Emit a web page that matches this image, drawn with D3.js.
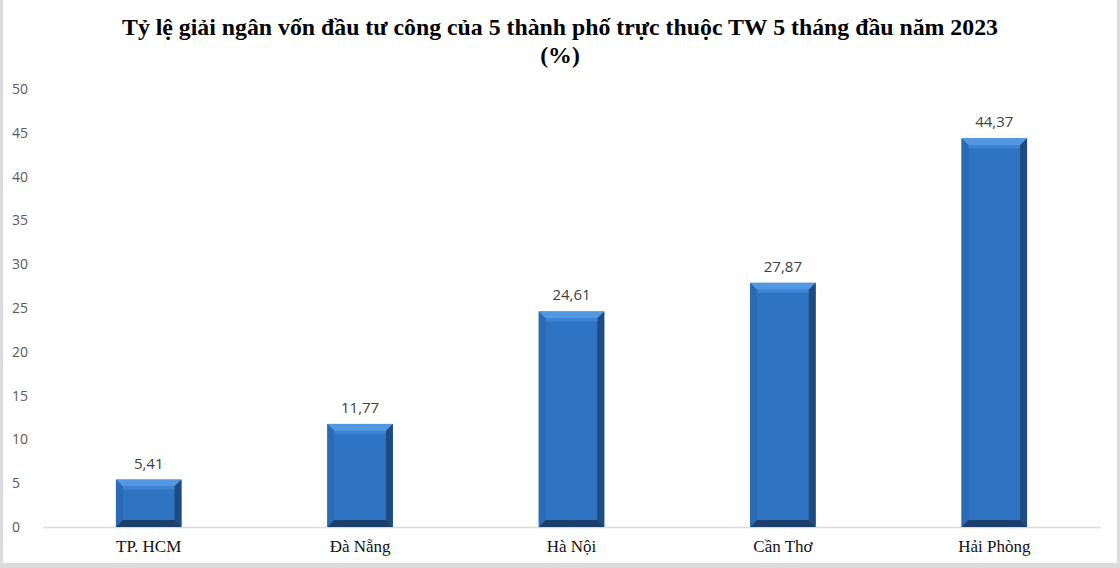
<!DOCTYPE html>
<html>
<head>
<meta charset="utf-8">
<script src="https://cdn.jsdelivr.net/npm/d3@7"></script>
<style>
  body { margin: 0; background: #fff; }
</style>
</head>
<body>
<div id="chart"></div>
<script>
const cities = ["TP. HCM", "Đà Nẵng", "Hà Nội", "Cần Thơ", "Hải Phòng"];
const rates = [5.41, 11.77, 24.61, 27.87, 44.37];
const yTicks = [0, 5, 10, 15, 20, 25, 30, 35, 40, 45, 50];
const titleLines = ["Tỷ lệ giải ngân vốn đầu tư công của 5 thành phố trực thuộc TW 5 tháng đầu năm 2023", "(%)"];

function drawBars() {
  const dimensions = {
    width: 1120,
    height: 568,
    margin: { top: 89, right: 20, bottom: 41, left: 43 }
  };
  dimensions.boundedWidth = dimensions.width - dimensions.margin.left - dimensions.margin.right;
  dimensions.boundedHeight = dimensions.height - dimensions.margin.top - dimensions.margin.bottom;

  const svg = d3.select("#chart").append("svg")
    .attr("width", dimensions.width)
    .attr("height", dimensions.height);

  // frame
  svg.append("rect").attr("x", 0).attr("y", 0).attr("width", 3).attr("height", 568).attr("fill", "#dcdce0");
  svg.append("rect").attr("x", 1117).attr("y", 0).attr("width", 3).attr("height", 568).attr("fill", "#dcdce0");
  svg.append("rect").attr("x", 0).attr("y", 563).attr("width", 1120).attr("height", 5).attr("fill", "#dcdce0");

  // title
  svg.selectAll(".title")
    .data(titleLines)
    .join("text")
    .attr("class", "title")
    .attr("x", 560)
    .attr("y", (d, i) => 35 + i * 28)
    .attr("text-anchor", "middle")
    .style("font-family", "'Liberation Serif', 'Times New Roman', serif")
    .style("font-weight", "bold")
    .style("font-size", "23.8px")
    .attr("fill", "#000")
    .text(d => d);

  const bounds = svg.append("g")
    .attr("transform", `translate(${dimensions.margin.left},${dimensions.margin.top})`);

  const xScale = d3.scaleBand()
    .domain(cities)
    .range([0, dimensions.boundedWidth])
    .paddingInner(0.69)
    .paddingOuter(0.345);

  const yScale = d3.scaleLinear()
    .domain([0, 50])
    .range([dimensions.boundedHeight, 0]);

  // y axis labels (no line)
  const yAxis = d3.axisLeft(yScale).tickValues(yTicks).tickSize(0).tickPadding(0);
  const yG = bounds.append("g").call(yAxis);
  yG.select(".domain").remove();
  yG.selectAll("text")
    .attr("x", 12 - dimensions.margin.left)
    .attr("text-anchor", "start")
    .style("font-family", "'Open Sans', 'Noto Sans', sans-serif")
    .style("font-size", "14px")
    .attr("fill", "#595959");

  // x axis
  const xAxis = d3.axisBottom(xScale).tickSize(0).tickPadding(13);
  const xG = bounds.append("g")
    .attr("transform", `translate(0,${dimensions.boundedHeight})`)
    .call(xAxis);
  xG.select(".domain").attr("stroke", "#d9d9d9").attr("stroke-width", 1.5);
  xG.selectAll("text")
    .style("font-family", "'Liberation Serif', 'Times New Roman', serif")
    .style("font-size", "17px")
    .attr("fill", "#111");

  // bars with bevel
  const bw = xScale.bandwidth();
  const bev = 7;
  const bar = bounds.selectAll(".bar")
    .data(rates)
    .join("g")
    .attr("class", "bar");

  const x0 = (d, i) => xScale(cities[i]);
  const x1 = (d, i) => xScale(cities[i]) + bw;
  const y0 = d => yScale(d);
  const y1 = () => yScale(0);

  // base
  bar.append("rect")
    .attr("x", x0)
    .attr("y", y0)
    .attr("width", bw)
    .attr("height", d => y1() - y0(d))
    .attr("fill", "#2f74c3");
  // top bevel
  bar.append("path")
    .attr("d", (d, i) => `M${x0(d, i)},${y0(d)}L${x1(d, i)},${y0(d)}L${x1(d, i) - bev},${y0(d) + bev}L${x0(d, i) + bev},${y0(d) + bev}Z`)
    .attr("fill", "#5297df");
  // left bevel
  bar.append("path")
    .attr("d", (d, i) => `M${x0(d, i)},${y0(d)}L${x0(d, i) + bev},${y0(d) + bev}L${x0(d, i) + bev},${y1() - bev}L${x0(d, i)},${y1()}Z`)
    .attr("fill", "#2b6ab5");
  // right bevel
  bar.append("path")
    .attr("d", (d, i) => `M${x1(d, i)},${y0(d)}L${x1(d, i) - bev},${y0(d) + bev}L${x1(d, i) - bev},${y1() - bev}L${x1(d, i)},${y1()}Z`)
    .attr("fill", "#1f4c80");
  // bottom bevel
  bar.append("path")
    .attr("d", (d, i) => `M${x0(d, i)},${y1()}L${x0(d, i) + bev},${y1() - bev}L${x1(d, i) - bev},${y1() - bev}L${x1(d, i)},${y1()}Z`)
    .attr("fill", "#1b3f6a");
  // highlight just below top bevel
  bar.append("rect")
    .attr("x", (d, i) => x0(d, i) + bev)
    .attr("y", d => y0(d) + bev)
    .attr("width", bw - 2 * bev)
    .attr("height", 3)
    .attr("fill", "#3c85d6");

  // data labels
  bar.append("text")
    .attr("x", (d, i) => x0(d, i) + bw / 2)
    .attr("y", d => y0(d) - 11)
    .attr("text-anchor", "middle")
    .style("font-family", "'Open Sans', 'Noto Sans', sans-serif")
    .style("font-size", "15px")
    .attr("fill", "#404040")
    .text(d => d3.format(".2f")(d).replace(".", ","));
}

drawBars();
</script>
</body>
</html>
